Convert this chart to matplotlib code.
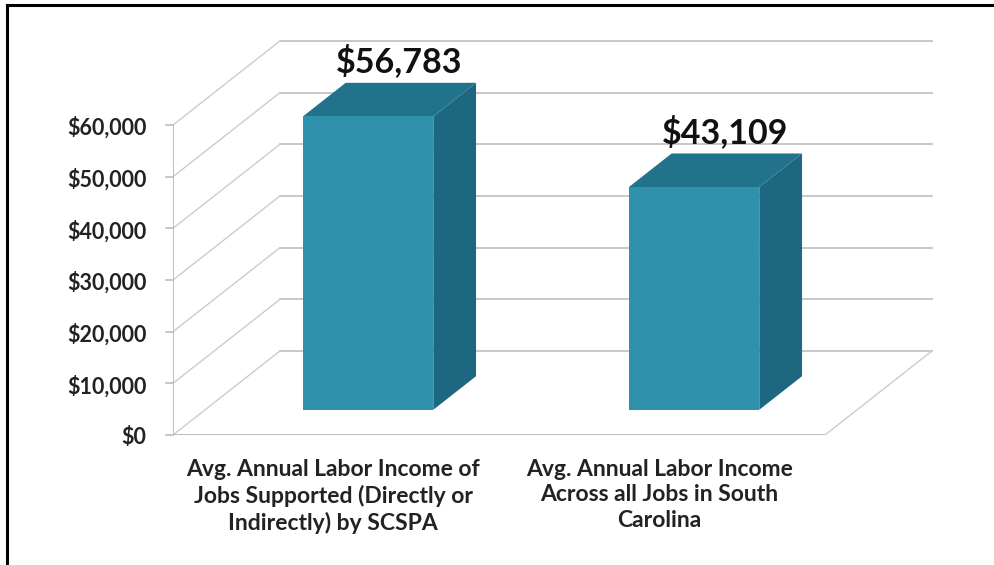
import numpy as np
import matplotlib.pyplot as plt
from matplotlib.patches import Polygon
from matplotlib.lines import Line2D

categories = ["Avg. Annual Labor Income of\nJobs Supported (Directly or\nIndirectly) by SCSPA",
              "Avg. Annual Labor Income\nAcross all Jobs in South\nCarolina"]
values = [56783, 43109]
value_labels = ["$56,783", "$43,109"]
yticks = [0, 10000, 20000, 30000, 40000, 50000, 60000]
ytick_labels = ["$0", "$10,000", "$20,000", "$30,000", "$40,000", "$50,000", "$60,000"]

# oblique "3D" offset for one unit of depth, in data units
DX = 0.328
DY = 16258
Z0, Z1 = 0.3, 0.7
FONT = "Lato"

front_col = "#2F91AC"
top_col = "#21738C"
side_col = "#1D6880"
grid_col = "#BDBDBD"


def proj(x, y, z):
    return (x + z * DX, y + z * DY)


fig = plt.figure(figsize=(9.95, 5.65), dpi=100)
ax = fig.add_axes([173 / 995, (565 - 435) / 565, 762 / 995, 405 / 565])
ax.set_xlim(0, 762 / 326)
ax.set_ylim(0, 405 / 310 * 60000)
ax.axis("off")

# back wall gridlines + left wall diagonals
for v in yticks:
    x0, y0 = proj(0, v, 1)
    x1, y1 = proj(2, v, 1)
    ax.plot([x0, x1], [y0, y1], color=grid_col, lw=1.2, zorder=1)
    ax.plot([0, x0], [v, y0], color="#CCCCCC", lw=1.0, zorder=1)
    ax.plot([-0.022, 0], [v, v], color=grid_col, lw=1.2, zorder=1, clip_on=False)

# floor outline and front axis
ax.plot([0, 2], [0, 0], color=grid_col, lw=1.4, zorder=1)
ax.plot([2, proj(2, 0, 1)[0]], [0, proj(2, 0, 1)[1]], color="#CCCCCC", lw=1.0, zorder=1)
ax.plot([0, 0], [0, 60000], color=grid_col, lw=1.4, zorder=1)

for i, v in enumerate(values):
    xl, xr = i + 0.3, i + 0.7
    front = [proj(xl, 0, Z0), proj(xr, 0, Z0), proj(xr, v, Z0), proj(xl, v, Z0)]
    top = [proj(xl, v, Z0), proj(xr, v, Z0), proj(xr, v, Z1), proj(xl, v, Z1)]
    side = [proj(xr, 0, Z0), proj(xr, 0, Z1), proj(xr, v, Z1), proj(xr, v, Z0)]
    ax.add_patch(Polygon(side, closed=True, facecolor=side_col, edgecolor="none", zorder=3))
    ax.add_patch(Polygon(top, closed=True, facecolor=top_col, edgecolor="none", zorder=3))
    ax.add_patch(Polygon(front, closed=True, facecolor=front_col, edgecolor="none", zorder=4))

    tx = proj(i + 0.5, v, 0.5)[0]
    ty = proj(i + 0.5, v, Z1)[1]
    ax.annotate(value_labels[i], (tx, ty), xytext=(7, 15.5), textcoords="offset points",
                ha="center", va="center", fontsize=24.5, fontweight="bold",
                family=FONT, color="#111111", zorder=5)

    ax.annotate(categories[i], (i + 0.5, 0), xytext=(-2, -17), textcoords="offset points",
                ha="center", va="top", fontsize=16.5, fontweight="bold", family=FONT,
                color="#222222", linespacing=1.27, annotation_clip=False)

for v, lab in zip(yticks, ytick_labels):
    ax.annotate(lab, (0, v), xytext=(-19, -2), textcoords="offset points",
                ha="right", va="center", fontsize=15.5, fontweight="bold", family=FONT,
                color="#222222", annotation_clip=False)

# outer frame (top and left edges only)
fig.add_artist(Line2D([7 / 995, 1], [1 - 5 / 565, 1 - 5 / 565], color="black", lw=2.2))
fig.add_artist(Line2D([7 / 995, 7 / 995], [0, 1 - 5 / 565], color="black", lw=2.2))

fig.savefig("out.png", dpi=100, facecolor="white")
